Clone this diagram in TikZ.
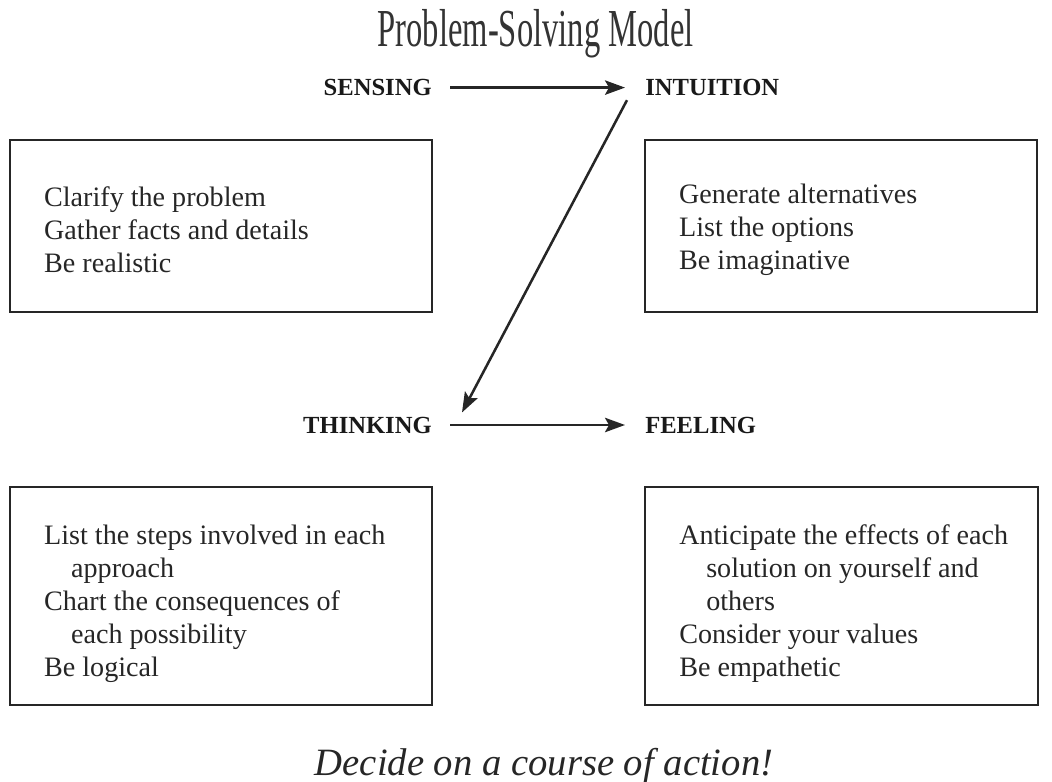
\documentclass[tikz,border=0pt]{standalone}
\usepackage{fontspec}
\setmainfont{Liberation Serif}
\usetikzlibrary{positioning,arrows.meta}

\tikzset{
  head/.style={font=\bfseries\fontsize{17.5}{20}\selectfont, inner sep=0pt, text=black!90},
  frame/.style={draw=black!85, line width=1.6pt, minimum height=4.3cm},
  items/.style={font=\fontsize{20}{23.5}\selectfont, align=left, inner sep=0pt, text=black!85},
  flow/.style={-{Stealth[length=0.5cm,width=0.36cm,inset=0.1cm]}, line width=1.8pt, black!85,
    shorten <=0.45cm, shorten >=0.5cm}
}

\begin{document}
\begin{tikzpicture}
\useasboundingbox (0,0) rectangle (26.3,-19.55);

\node[font=\fontsize{38}{40}\selectfont, text=black!80, inner sep=0pt, anchor=base] (title)
  at (13.39,-1.175) {\scalebox{0.61}[1]{Problem-Solving Model}};

\node[head, anchor=east] (sensing)   at (10.8,-2.19)    {SENSING};
\node[head, anchor=west] (intuition) at (16.125,-2.19)  {INTUITION};
\node[head, anchor=east] (thinking)  at (10.8,-10.625)  {THINKING};
\node[head, anchor=west] (feeling)   at (16.125,-10.625) {FEELING};

\node[frame, minimum width=10.55cm] (sbox) at (5.525,-5.65) {};
\node[frame, minimum width=9.8cm]   (ibox) at (21.025,-5.65) {};
\node[frame, minimum width=10.55cm, minimum height=5.45cm] (tbox) at (5.525,-14.9) {};
\node[frame, minimum width=9.825cm, minimum height=5.45cm] (fbox) at (21.04,-14.9) {};

\node[items, right=0.875cm of sbox.west, yshift=-0.1cm] (stext)
  {Clarify the problem\\Gather facts and details\\Be realistic};
\node[items, right=0.875cm of ibox.west, yshift=-0.1cm] (itext)
  {Generate alternatives\\List the options\\Be imaginative};
\node[items, right=0.875cm of tbox.west, yshift=-0.2cm] (ttext)
  {List the steps involved in each\\\hspace*{0.675cm}approach\\Chart the consequences of\\
   \hspace*{0.675cm}each possibility\\Be logical};
\node[items, right=0.875cm of fbox.west, yshift=-0.2cm] (ftext)
  {Anticipate the effects of each\\\hspace*{0.675cm}solution on yourself and\\\hspace*{0.675cm}others\\
   Consider your values\\Be empathetic};

\draw[flow] (sensing) -- (intuition);
\draw[flow] (thinking) -- (feeling);
\draw[flow, shorten <=0pt, shorten >=0pt]
  ([shift={(-0.45,-0.1)}]intuition.south west) -- ([shift={(0.75,0.1)}]thinking.north east);

\node[font=\itshape\fontsize{27.5}{30}\selectfont, text=black!85, inner sep=0pt, anchor=base] (action)
  at (13.6,-19.375) {Decide on a course of action!};

\end{tikzpicture}
\end{document}
